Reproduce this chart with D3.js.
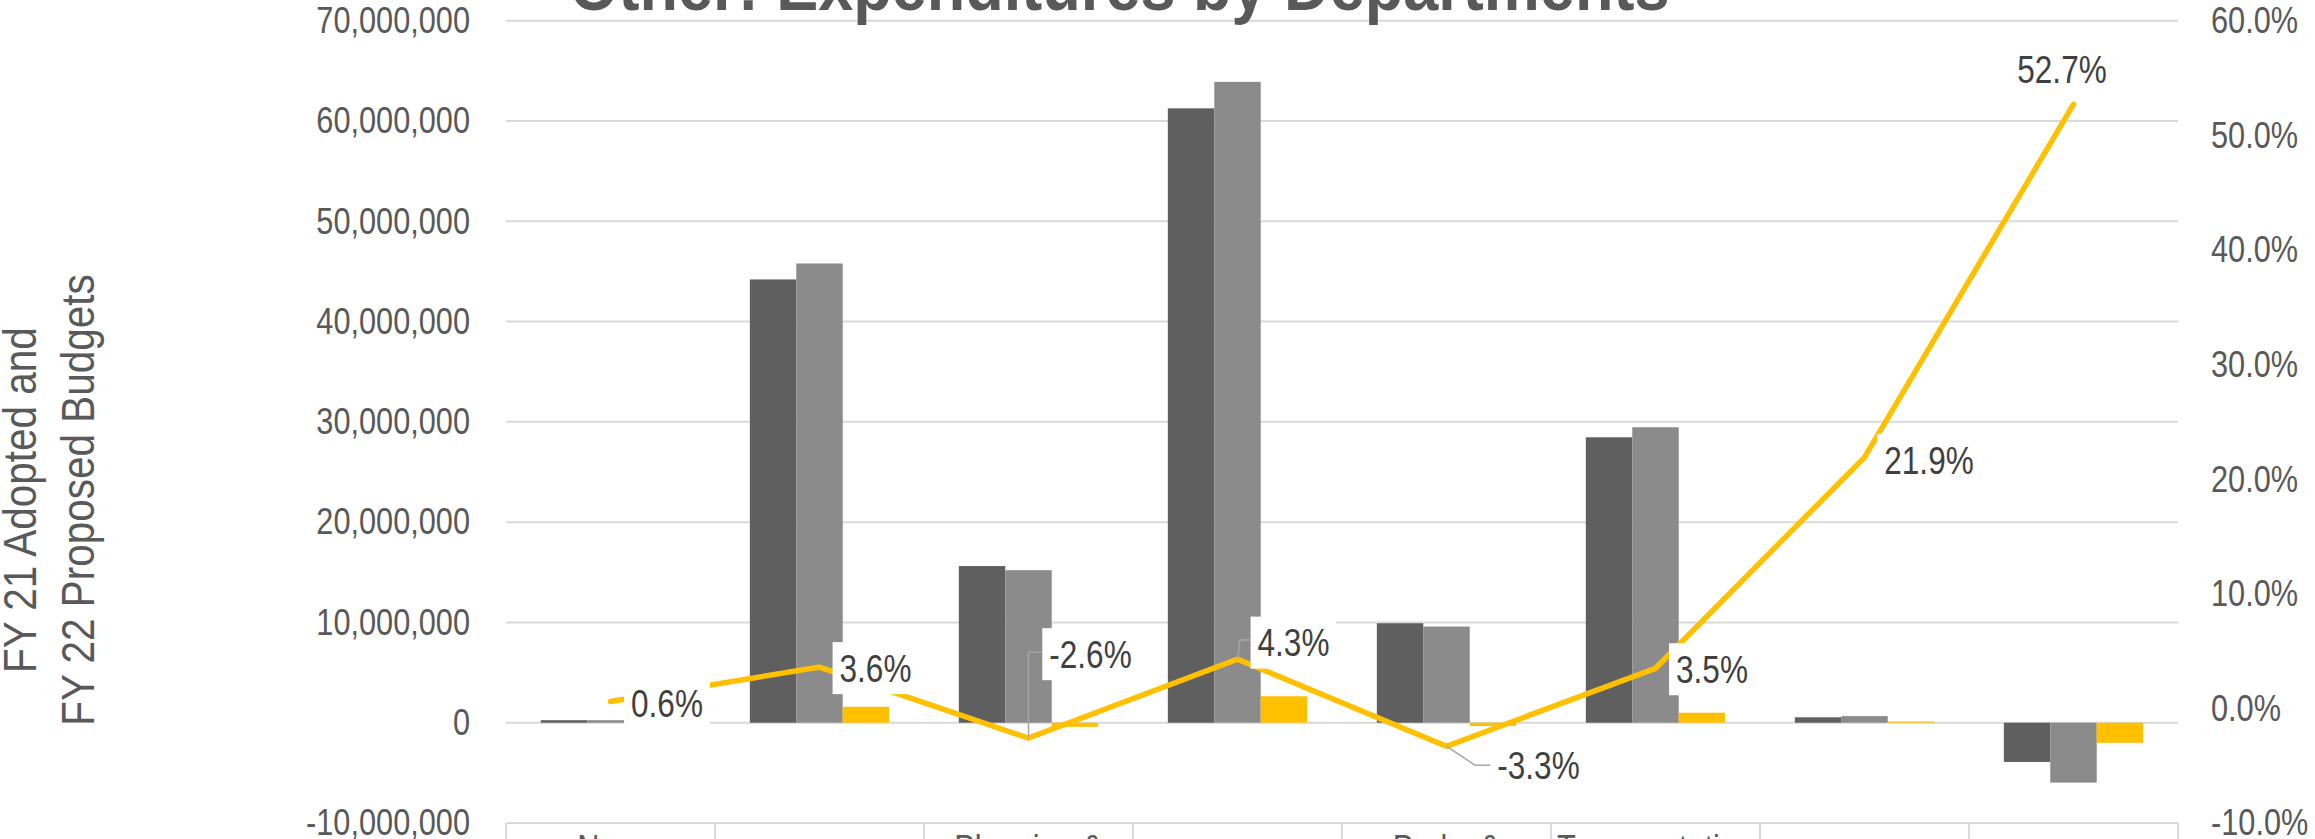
<!DOCTYPE html>
<html>
<head>
<meta charset="utf-8">
<script src="https://cdn.jsdelivr.net/npm/d3@7"></script>
<style>
html,body{margin:0;padding:0;background:#ffffff;overflow:hidden}
text{font-family:"Liberation Sans",Arial,Helvetica,sans-serif}
</style>
</head>
<body>
<svg id="chart" width="2315" height="839"></svg>
<script>
// ---------------- DATA ----------------
const titleText = "Other: Expenditures by Departments";
const yTitleLines = ["FY 21 Adopted and", "FY 22 Proposed Budgets"];
const categories = ["Non-Departmental", "General Government", "Planning & Development", "Public Safety",
                    "Parks & Recreation", "Transportation", "Debt Service", "Transfers Out"];
const categoryLines = [
  ["Non-", "Departmental", "& Other"],
  ["General", "Government"],
  ["Planning &", "Community", "Development"],
  ["Public", "Safety"],
  ["Parks &", "Recreation", "Services"],
  ["Transportation", "& Public", "Works"],
  ["Debt", "Service"],
  ["Transfers", "Out"]
];
const seriesNames = ["FY 21 Adopted", "FY 22 Proposed", "Change"];
const fy21Adopted  = [250000, 44200000, 15620000, 61260000, 9920000, 28460000, 540000, -3910000];
const fy22Proposed = [251500, 45790000, 15210000, 63900000, 9590000, 29460000, 658000, -5970000];
const changeAmount = [1500, 1590000, -410000, 2640000, -330000, 1000000, 118000, -2000000];
const pctChange    = [0.6, 3.6, -2.6, 4.3, -3.3, 3.5, 21.9, 52.7];
const pctLabels    = ["0.6%", "3.6%", "-2.6%", "4.3%", "-3.3%", "3.5%", "21.9%", "52.7%"];
const leftTickValues = [-10000000, 0, 10000000, 20000000, 30000000, 40000000, 50000000, 60000000, 70000000];
const leftTickLabels = ["-10,000,000", "0", "10,000,000", "20,000,000", "30,000,000", "40,000,000", "50,000,000", "60,000,000", "70,000,000"];
const rightTickValues = [-10, 0, 10, 20, 30, 40, 50, 60];
const rightTickLabels = ["-10.0%", "0.0%", "10.0%", "20.0%", "30.0%", "40.0%", "50.0%", "60.0%"];

// ---------------- LAYOUT / STYLE ----------------
const plotLeft = 506, plotRight = 2178, plotTop = 20.7, plotBottom = 823;
const barColors = ["#5f5f5f", "#8b8b8b", "#ffc000"];
const lineColor = "#ffc000";
const gridColor = "#d9d9d9";
const axisTextColor = "#595959";
const labelTextColor = "#404040";
const hScale = 0.83;  // horizontally condensed text
const axisFont = "37px", labelFont = "38px";
// data label placement relative to the point (px)
const labelLayout = [
  {dx: 56.5, dy: 1.5},
  {dx: 56, dy: 1},
  {dx: 62, dy: -84, elbow: [0, -86]},
  {dx: 56, dy: -16.5, elbow: [2.5, -19]},
  {dx: 92, dy: 19.5, elbow: [28.5, 19]},
  {dx: 56.5, dy: 1},
  {dx: 64.5, dy: 2.5},
  {dx: -11.5, dy: -35.5}
];

const svg = d3.select("#chart");

const x = d3.scaleBand().domain(categories).range([plotLeft, plotRight]).paddingInner(0).paddingOuter(0);
const xSub = d3.scaleBand().domain(seriesNames).range([0, x.bandwidth()]).paddingInner(0).paddingOuter(0.75);
const yLeft = d3.scaleLinear().domain([-10000000, 70000000]).range([plotBottom, plotTop]);
const yRight = d3.scaleLinear().domain([-10, 60]).range([plotBottom, plotTop]);

// gridlines
svg.append("g").selectAll("line").data(leftTickValues).join("line")
  .attr("x1", plotLeft).attr("x2", plotRight)
  .attr("y1", d => yLeft(d)).attr("y2", d => yLeft(d))
  .attr("stroke", gridColor).attr("stroke-width", 2);

// category separators
const sepPositions = categories.map(c => x(c)).concat([x(categories[categories.length - 1]) + x.bandwidth()]);
svg.append("g").selectAll("line").data(sepPositions).join("line")
  .attr("x1", d => d).attr("x2", d => d)
  .attr("y1", plotBottom).attr("y2", plotBottom + 60)
  .attr("stroke", gridColor).attr("stroke-width", 2);

// left axis
const axL = svg.append("g").attr("transform", `translate(470,0)`)
  .call(d3.axisLeft(yLeft).tickValues(leftTickValues).tickFormat((d, i) => leftTickLabels[i]).tickSize(0).tickPadding(0));
axL.select(".domain").remove();
axL.selectAll("text").attr("x", 0).attr("transform", `scale(${hScale},1)`)
  .style("font-size", axisFont).attr("fill", axisTextColor).attr("font-family", null);

// right axis
const axR = svg.append("g").attr("transform", `translate(2211,0)`)
  .call(d3.axisRight(yRight).tickValues(rightTickValues).tickFormat((d, i) => rightTickLabels[i]).tickSize(0).tickPadding(0));
axR.select(".domain").remove();
axR.selectAll("text").attr("x", 0).attr("transform", `scale(${hScale},1)`)
  .style("font-size", axisFont).attr("fill", axisTextColor).attr("font-family", null);

// bars
const seriesValues = [fy21Adopted, fy22Proposed, changeAmount];
const barData = [];
categories.forEach((c, i) => {
  seriesNames.forEach((s, j) => barData.push({c, s, j, v: seriesValues[j][i]}));
});
svg.append("g").selectAll("rect").data(barData).join("rect")
  .attr("x", d => x(d.c) + xSub(d.s))
  .attr("width", xSub.bandwidth())
  .attr("y", d => Math.min(yLeft(d.v), yLeft(0)))
  .attr("height", d => Math.abs(yLeft(d.v) - yLeft(0)))
  .attr("fill", d => barColors[d.j]);

// line
const pts = categories.map((c, i) => [x(c) + x.bandwidth() / 2, yRight(pctChange[i])]);
svg.append("path").datum(pts)
  .attr("d", d3.line())
  .attr("fill", "none").attr("stroke", lineColor).attr("stroke-width", 5.5)
  .attr("stroke-linejoin", "miter").attr("stroke-linecap", "round");

// data labels
const lblG = svg.append("g");
const padX = 7, boxH = 52;
pts.forEach((p, i) => {
  const L = labelLayout[i];
  const cx = p[0] + L.dx, cy = p[1] + L.dy;
  const g = lblG.append("g");
  const rect = g.append("rect").attr("fill", "#ffffff");
  const t = g.append("text")
    .attr("transform", `translate(${cx},${cy}) scale(${hScale},1)`)
    .attr("text-anchor", "middle").attr("dy", "0.36em")
    .style("font-size", labelFont).attr("fill", labelTextColor)
    .text(pctLabels[i]);
  const w = t.node().getComputedTextLength() * hScale;
  const bx = cx - w / 2 - padX;
  rect.attr("x", bx).attr("y", cy - boxH / 2).attr("width", w + 2 * padX).attr("height", boxH);
  if (L.elbow) {
    const ex = p[0] + L.elbow[0], ey = p[1] + L.elbow[1];
    lblG.insert("path", ":first-child")
      .attr("d", `M${p[0]},${p[1]} L${ex},${ey} L${bx},${ey}`)
      .attr("fill", "none").attr("stroke", "#a6a6a6").attr("stroke-width", 1.5);
  }
});

// category labels (multi-line, vertically centered under the axis)
const catG = svg.append("g");
const lineH = 42, catCenter = 890;
categories.forEach((c, i) => {
  const lines = categoryLines[i];
  const top = catCenter - lines.length * lineH / 2;
  lines.forEach((ln, k) => {
    catG.append("text")
      .attr("transform", `translate(${x(c) + x.bandwidth() / 2},${top + k * lineH + lineH / 2 + 13}) scale(${hScale},1)`)
      .attr("text-anchor", "middle").style("font-size", axisFont).attr("fill", axisTextColor)
      .text(ln);
  });
});

// y-axis title
const yt = svg.append("g");
const ytBaselines = [36, 94];
yTitleLines.forEach((ln, k) => {
  yt.append("text")
    .attr("transform", `translate(${ytBaselines[k]},500) rotate(-90) scale(0.88,1)`)
    .attr("text-anchor", "middle").style("font-size", "46px").attr("fill", axisTextColor)
    .text(ln);
});

// title
const tt = svg.append("text")
  .attr("text-anchor", "middle").style("font-size", "70px").style("font-weight", "bold")
  .attr("fill", "#595959").text(titleText);
const natural = tt.node().getComputedTextLength();
const ts = 1100 / natural;
tt.attr("transform", `translate(1119.5,9.5) scale(${ts},1)`);
</script>
</body>
</html>
